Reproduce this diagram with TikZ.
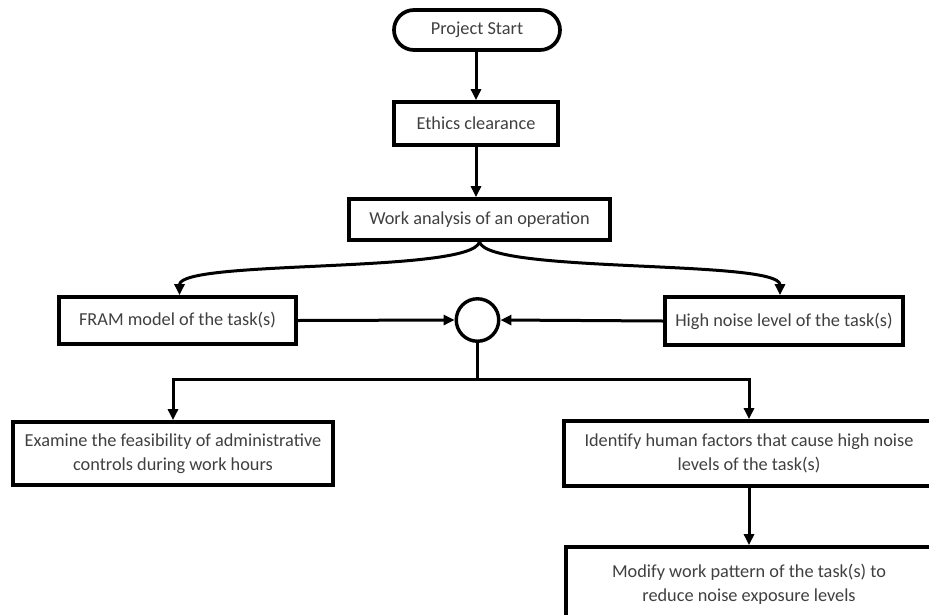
\documentclass[tikz,border=0pt]{standalone}
\usepackage{fontspec}
\setmainfont{Carlito}
\usetikzlibrary{arrows.meta,shapes.misc}
\definecolor{txt}{RGB}{64,64,64}
\begin{document}
\begin{tikzpicture}[x=1pt,y=-1pt,
  every node/.style={font=\fontsize{18.3}{24}\selectfont, text=txt, align=center},
  box/.style={draw=black, line width=3.7pt, fill=white, inner sep=0pt},
  term/.style={box, rounded rectangle},
  joint/.style={draw=black, line width=3.4pt, circle, fill=white, inner sep=0pt, minimum size=42.5pt},
  flow/.style={line width=3pt, -{Triangle[length=11pt,width=10pt]}},
  link/.style={line width=3pt}]
\useasboundingbox (0,0) rectangle (929,614);
\clip (0,0) rectangle (929,614);

% process boxes
\node[term, minimum width=166pt, minimum height=40pt] (start) at (477,30) {Project Start};
\node[box, minimum width=164pt, minimum height=43pt] (ethics) at (476,123.5) {Ethics clearance};
\node[box, minimum width=261pt, minimum height=41pt] (work) at (479.5,219.5) {Work analysis of an operation};
\node[box, minimum width=237pt, minimum height=47pt] (fram) at (177.5,320.5) {FRAM model of the task(s)};
\node[box, minimum width=238pt, minimum height=48pt] (noise) at (784,321) {High noise level of the task(s)};
\node[joint] (join) at (477.5,320) {};
\node[box, minimum width=320pt, minimum height=63pt] (examine) at (173,453.5)
  {Examine the feasibility of administrative\\controls during work hours};
\node[box, minimum width=370pt, minimum height=65pt] (identify) at (749,453.5)
  {Identify human factors that cause high noise\\levels of the task(s)};
\node[box, minimum width=366pt, minimum height=74pt] (modify) at (749,584)
  {Modify work pattern of the task(s) to\\reduce noise exposure levels};

\coordinate (split) at (477.5,379);

% connectors
\draw[flow] (start.south -| ethics.north) -- (ethics.north);
\draw[flow] (ethics.south) -- (ethics.south |- work.north);
\draw[flow] (work.south) .. controls +(-8,32) and +(0,-36) .. ([xshift=2pt]fram.north);
\draw[flow] (work.south) .. controls +(8,32) and +(0,-36) .. ([xshift=-4pt]noise.north);
\draw[flow] (fram.east) -- (join.west);
\draw[flow] (noise.west) -- (join.east);
\draw[link] (join.south) -- (split);
\draw[flow] (split) -| (examine.north);
\draw[flow] (split) -| (identify.north);
\draw[flow] (identify.south) -- (modify.north);
\end{tikzpicture}
\end{document}
